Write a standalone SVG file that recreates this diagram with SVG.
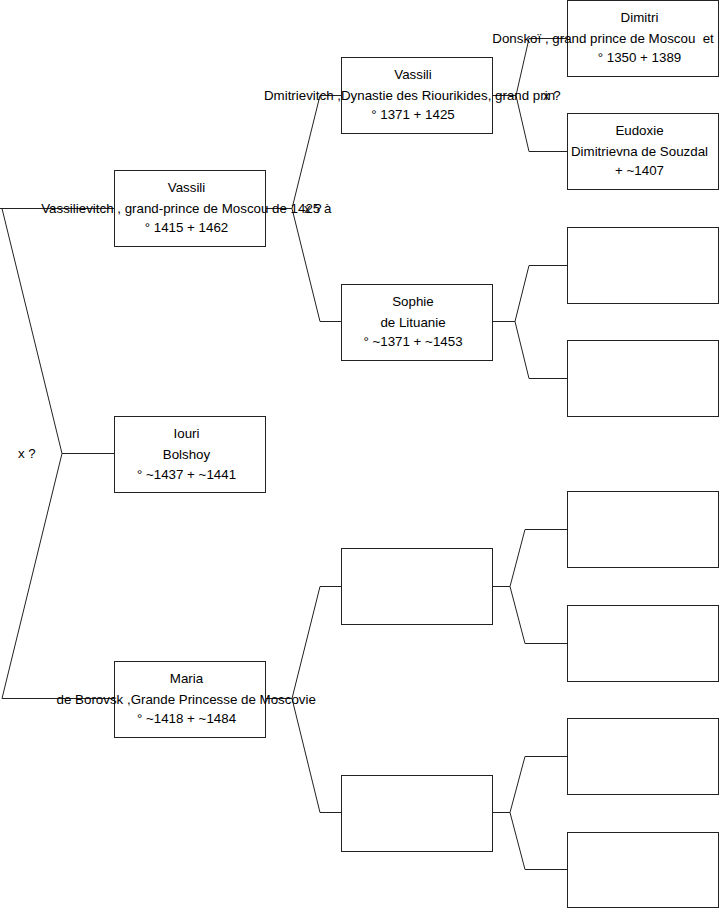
<svg xmlns="http://www.w3.org/2000/svg" width="719" height="908" viewBox="0 0 719 908">
<style>
.box{fill:#fff;stroke:#222;stroke-width:1}
.con{fill:none;stroke:#222;stroke-width:1}
text{font-family:"Liberation Sans",Arial,sans-serif;font-size:13.33px;fill:#000}
.m{text-anchor:middle}
</style>
<rect width="719" height="908" fill="#fff"/>
<g id="connectors">
<polyline class="con" points="114,208.5 0,208.5"/>
<polyline class="con" points="2,208.5 62,453.5 2,698.5 114,698.5"/>
<polyline class="con" points="62,453.5 114,453.5"/>
<polyline class="con" points="265,208.5 292,208.5"/>
<polyline class="con" points="341,95.5 320,95.5 292,208.5 320,321.5 341,321.5"/>
<polyline class="con" points="265,698.5 292,698.5"/>
<polyline class="con" points="341,586.5 320,586.5 292,698.5 320,812.5 341,812.5"/>
<polyline class="con" points="492,95.5 516,95.5"/>
<polyline class="con" points="567,38.5 529,38.5 516,95.5 529,151.5 567,151.5"/>
<polyline class="con" points="492,321.5 515,321.5"/>
<polyline class="con" points="567,265.5 529,265.5 515,321.5 529,378.5 567,378.5"/>
<polyline class="con" points="492,586.5 510,586.5"/>
<polyline class="con" points="567,529.5 525,529.5 510,586.5 525,643.5 567,643.5"/>
<polyline class="con" points="492,812.5 510,812.5"/>
<polyline class="con" points="567,756.5 525,756.5 510,812.5 525,869.5 567,869.5"/>
</g>
<g id="n-vassili-1">
<rect class="box" x="114.5" y="170.5" width="151" height="76"/>
<text class="m" x="186.5" y="191.5">Vassili</text>
<text class="m" x="186.3" y="212.5">Vassilievitch , grand-prince de Moscou de 1425 à</text>
<text class="m" x="186.5" y="231.5">° 1415 + 1462</text>
</g>
<g id="n-iouri">
<rect class="box" x="114.5" y="416.5" width="151" height="76"/>
<text class="m" x="186.5" y="438">Iouri</text>
<text class="m" x="186.5" y="458.5">Bolshoy</text>
<text class="m" x="186.5" y="478.5">° ~1437 + ~1441</text>
</g>
<g id="n-maria">
<rect class="box" x="114.5" y="661.5" width="151" height="76"/>
<text class="m" x="186.5" y="682.5">Maria</text>
<text class="m" x="186.2" y="703.5">de Borovsk ,Grande Princesse de Moscovie</text>
<text class="m" x="186.5" y="722.5">° ~1418 + ~1484</text>
</g>
<g id="n-vassili-2">
<rect class="box" x="341.5" y="57.5" width="151" height="76"/>
<text class="m" x="413" y="78.5">Vassili</text>
<text class="m" x="409.5" y="99.5">Dmitrievitch ,Dynastie des Riourikides, grand prin</text>
<text class="m" x="413" y="118.5">° 1371 + 1425</text>
</g>
<g id="n-sophie">
<rect class="box" x="341.5" y="284.5" width="151" height="76"/>
<text class="m" x="413" y="305.5">Sophie</text>
<text class="m" x="413" y="326.5">de Lituanie</text>
<text class="m" x="413" y="345.5">° ~1371 + ~1453</text>
</g>
<g id="n-empty-2a"><rect class="box" x="341.5" y="548.5" width="151" height="76"/></g>
<g id="n-empty-2b"><rect class="box" x="341.5" y="775.5" width="151" height="76"/></g>
<g id="n-dimitri">
<rect class="box" x="567.5" y="0.5" width="151" height="76"/>
<text class="m" x="639.5" y="21.5">Dimitri</text>
<text x="492.3" y="42.5" xml:space="preserve">Donskoï , grand prince de Moscou  et</text>
<text class="m" x="639.5" y="61.5">° 1350 + 1389</text>
</g>
<g id="n-eudoxie">
<rect class="box" x="567.5" y="113.5" width="151" height="76"/>
<text class="m" x="639.5" y="134.5">Eudoxie</text>
<text class="m" x="639.5" y="155.5">Dimitrievna de Souzdal</text>
<text class="m" x="639.5" y="174.5">+ ~1407</text>
</g>
<g id="n-empty-3a"><rect class="box" x="567.5" y="227.5" width="151" height="76"/></g>
<g id="n-empty-3b"><rect class="box" x="567.5" y="340.5" width="151" height="76"/></g>
<g id="n-empty-3c"><rect class="box" x="567.5" y="491.5" width="151" height="76"/></g>
<g id="n-empty-3d"><rect class="box" x="567.5" y="605.5" width="151" height="76"/></g>
<g id="n-empty-3e"><rect class="box" x="567.5" y="718.5" width="151" height="76"/></g>
<g id="n-empty-3f"><rect class="box" x="567.5" y="832.5" width="151" height="75"/></g>
<g id="labels">
<text x="18" y="457.5">x ?</text>
<text x="304" y="212.5">x ?</text>
<text x="543" y="99.5">x ?</text>
</g>
</svg>
